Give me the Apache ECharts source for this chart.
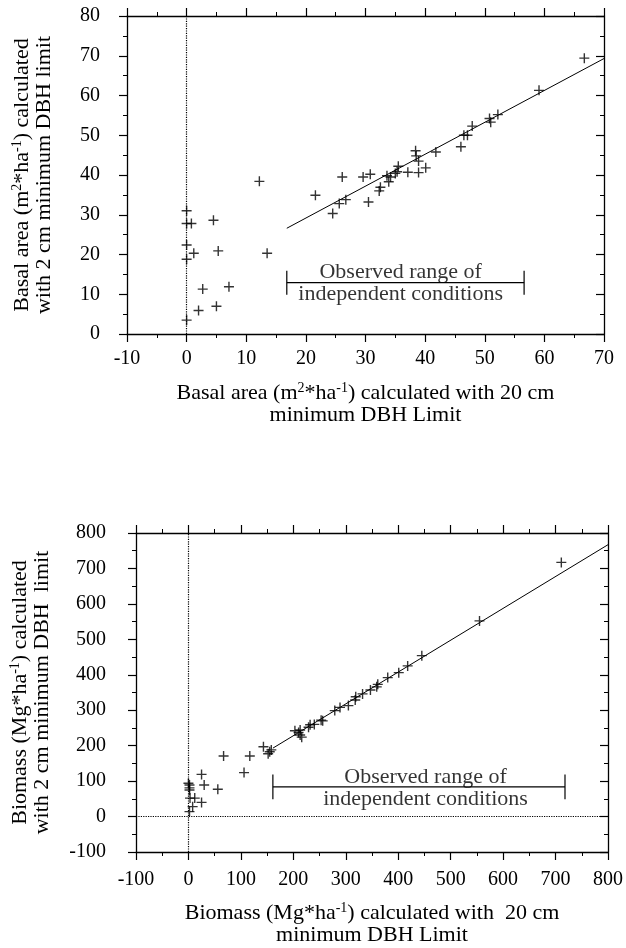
<!DOCTYPE html>
<html>
<head>
<meta charset="utf-8">
<script src="https://cdn.jsdelivr.net/npm/echarts@6/dist/echarts.min.js"></script>
<style>
  html, body { margin: 0; padding: 0; background: #fff; }
  #chart { width: 626px; height: 948px; }
</style>
</head>
<body>
<div id="chart"></div>
<script>
// basal area: 20 cm limit (x) vs 2 cm limit (y)
var basalPoints = [
  [66.7, 69.4], [59.1, 61.3], [52.2, 55.2], [50.8, 54.2], [51.0, 53.3],
  [47.9, 52.3], [46.5, 50.0], [47.1, 50.0], [46.0, 47.1], [41.8, 45.8],
  [38.4, 46.1], [38.5, 44.8], [38.9, 43.5], [40.1, 41.8], [38.9, 40.6],
  [37.1, 40.7], [35.5, 42.2], [35.3, 40.8], [35.0, 40.4], [34.2, 39.5],
  [33.9, 38.3], [33.6, 39.8], [32.5, 36.9], [32.3, 36.0], [30.8, 40.2],
  [29.6, 39.5], [30.5, 33.2], [26.1, 39.5], [26.7, 33.8], [25.6, 32.8],
  [24.5, 30.3], [21.6, 34.9], [12.2, 38.4], [13.5, 20.3], [7.1, 11.9],
  [5.0, 7.0], [5.3, 20.9], [4.5, 28.6], [2.7, 11.3], [2.0, 5.9],
  [1.2, 20.3], [0.8, 27.8], [0, 31.0], [0, 27.8], [0, 22.4],
  [0, 18.8], [0, 3.5]
];
var basalFit = [[16.8, 26.6], [70, 69.3]];
var basalRange = [16.8, 56.6];   // observed range of independent conditions
var basalRangeY = 12.9;
var basalCap = 3;

// biomass: 20 cm limit (x) vs 2 cm limit (y)
var biomassPoints = [
  [711, 717], [555, 552], [445, 454], [418, 425], [401, 406],
  [380, 392], [361, 373], [359, 366], [347, 357], [332, 346],
  [319, 338], [318, 329], [305, 313], [289, 308], [279, 299],
  [256, 270], [253, 272], [240, 260], [232, 259], [229, 252],
  [213, 244], [213, 230], [210, 237], [203, 242], [216, 224],
  [155, 183], [152, 177], [158, 188], [143, 197], [117, 171],
  [67, 171], [106, 124], [56, 77], [25, 119], [30, 89],
  [25, 40], [12, 52], [2, 89], [2, 81], [2, 75],
  [3, 52], [8, 28], [2, 14], [0, 94]
];
var biomassFit = [[161, 193], [800, 767]];
var biomassRange = [161, 718];
var biomassRangeY = 84;
var biomassCap = 35;

var basalTicks = { min: -10, max: 70, interval: 10 };
var basalYTicks = { min: 0, max: 80, interval: 10 };
var biomassTicks = { min: -100, max: 800, interval: 100 };

var serif = 'Liberation Serif';
var plus = 'path://M4.3,0H5.7V4.3H10V5.7H5.7V10H4.3V5.7H0V4.3H4.3Z';

function axis(gi, t, pos, showLabel, inside, margin) {
    return {
        type: 'value', gridIndex: gi, position: pos,
        min: t.min, max: t.max, interval: t.interval,
        axisLine: { onZero: false, lineStyle: { color: '#000', width: 1.3 } },
        axisTick: { show: true, inside: inside, length: 8, lineStyle: { color: '#000', width: 1.2 } },
        minorTick: { show: true, splitNumber: 2, length: 4, lineStyle: { color: '#000', width: 1 } },
        splitLine: { show: false },
        axisLabel: { show: showLabel, color: '#000', fontFamily: serif, fontSize: 20, margin: margin }
    };
}

var rich = {
    t: { fontFamily: serif, fontSize: 22, color: '#000', lineHeight: 22 },
    s: { fontFamily: serif, fontSize: 14, color: '#000', lineHeight: 22, padding: [0, 0, 10, 0] }
};
var noteRich = { a: { fontFamily: serif, fontSize: 22, color: '#000', lineHeight: 22 } };

function capSeries(xi, x, y, h) {
    return {
        type: 'line', xAxisIndex: xi, yAxisIndex: xi, symbol: 'none', silent: true,
        lineStyle: { color: '#000', width: 1.2 },
        data: [[x, y - h], [x, y + h]]
    };
}

var xA = [
    axis(0, basalTicks, 'bottom', true, false, 15),
    axis(0, basalTicks, 'top', false, false, 8),
    axis(1, biomassTicks, 'bottom', true, false, 18),
    axis(1, biomassTicks, 'top', false, false, 8)
];
var yA = [
    axis(0, basalYTicks, 'left', true, false, 27),
    axis(0, basalYTicks, 'right', false, true, 8),
    axis(1, biomassTicks, 'left', true, false, 30),
    axis(1, biomassTicks, 'right', false, true, 8)
];

xA[0].name = '{t|Basal area (m}{s|2}{t|*ha}{s|-1}{t|) calculated with 20 cm}\n{t|minimum DBH Limit}';
xA[0].nameLocation = 'middle'; xA[0].nameGap = 48; xA[0].nameTextStyle = { rich: rich };
xA[2].name = '{t|Biomass (Mg*ha}{s|-1}{t|) calculated with  20 cm}\n{t|minimum DBH Limit}';
xA[2].nameLocation = 'middle'; xA[2].nameGap = 50; xA[2].nameTextStyle = { rich: rich };
yA[0].name = '{t|Basal area (m}{s|2}{t|*ha}{s|-1}{t|) calculated}\n{t|with 2 cm minimum DBH limit}';
yA[0].nameLocation = 'middle'; yA[0].nameGap = 72; yA[0].nameTextStyle = { rich: rich };
yA[2].name = '{t|Biomass (Mg*ha}{s|-1}{t|) calculated}\n{t|with 2 cm minimum DBH  limit}';
yA[2].nameLocation = 'middle'; yA[2].nameGap = 83; yA[2].nameTextStyle = { rich: rich };

var option = {
    backgroundColor: '#fff',
    animation: false,
    grid: [
        { left: 127, top: 16, width: 477, height: 318 },
        { left: 136, top: 533, width: 476, height: 319 }
    ],
    xAxis: xA,
    yAxis: yA,
    series: [
        {
            type: 'scatter', xAxisIndex: 0, yAxisIndex: 0,
            symbol: plus, symbolSize: 10, itemStyle: { color: '#000' },
            data: basalPoints,
            markLine: {
                silent: true, symbol: 'none', label: { show: false },
                lineStyle: { color: '#000', type: 'dotted', width: 1.2 },
                data: [{ xAxis: 0 }]
            }
        },
        {
            type: 'line', xAxisIndex: 0, yAxisIndex: 0, symbol: 'none',
            lineStyle: { color: '#000', width: 1 }, data: basalFit
        },
        {
            type: 'line', xAxisIndex: 0, yAxisIndex: 0, symbol: 'none',
            lineStyle: { color: '#000', width: 1.3 },
            data: [[basalRange[0], basalRangeY], [basalRange[1], basalRangeY]]
        },
        capSeries(0, basalRange[0], basalRangeY, basalCap),
        capSeries(0, basalRange[1], basalRangeY, basalCap),
        {
            type: 'scatter', xAxisIndex: 0, yAxisIndex: 0, symbolSize: 0, silent: true,
            data: [[35.9, basalRangeY]],
            label: {
                show: true, position: 'inside',
                formatter: '{a|Observed range of}\n{a|independent conditions}', rich: noteRich
            }
        },
        {
            type: 'scatter', xAxisIndex: 2, yAxisIndex: 2,
            symbol: plus, symbolSize: 10, itemStyle: { color: '#000' },
            data: biomassPoints,
            markLine: {
                silent: true, symbol: 'none', label: { show: false },
                lineStyle: { color: '#000', type: 'dotted', width: 1.2 },
                data: [{ xAxis: 0 }, { yAxis: 0 }]
            }
        },
        {
            type: 'line', xAxisIndex: 2, yAxisIndex: 2, symbol: 'none',
            lineStyle: { color: '#000', width: 1 }, data: biomassFit
        },
        {
            type: 'line', xAxisIndex: 2, yAxisIndex: 2, symbol: 'none',
            lineStyle: { color: '#000', width: 1.3 },
            data: [[biomassRange[0], biomassRangeY], [biomassRange[1], biomassRangeY]]
        },
        capSeries(2, biomassRange[0], biomassRangeY, biomassCap),
        capSeries(2, biomassRange[1], biomassRangeY, biomassCap),
        {
            type: 'scatter', xAxisIndex: 2, yAxisIndex: 2, symbolSize: 0, silent: true,
            data: [[452, 80]],
            label: {
                show: true, position: 'inside',
                formatter: '{a|Observed range of}\n{a|independent conditions}', rich: noteRich
            }
        }
    ]
};

var myChart = echarts.init(document.getElementById('chart'));
myChart.setOption(option);
</script>
</body>
</html>
